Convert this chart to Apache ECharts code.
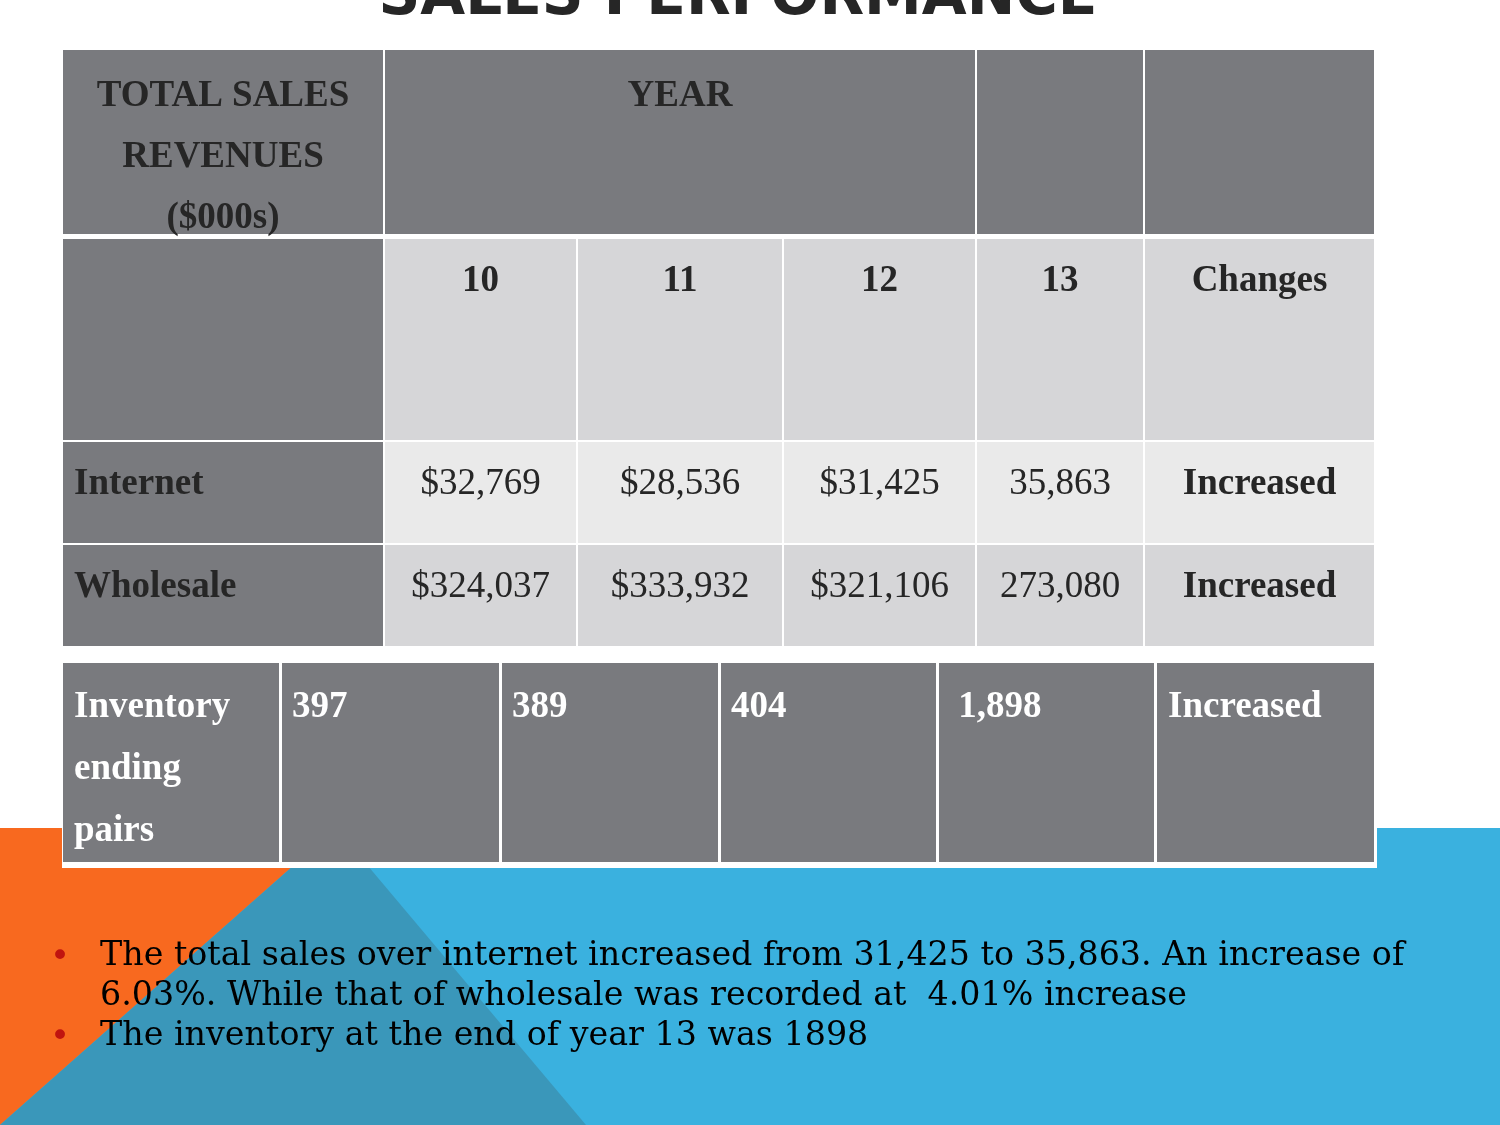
<!DOCTYPE html>
<html>
<head>
<meta charset="utf-8">
<script src="https://cdn.jsdelivr.net/npm/echarts@6/dist/echarts.min.js"></script>
<style>
html,body{margin:0;padding:0;background:#fff;}
#chart{width:1500px;height:1125px;}
</style>
</head>
<body>
<div id="chart"></div>
<script>
// ---- data ----
const titleText = 'SALES PERFORMANCE';
const cornerHeader = ['TOTAL SALES', 'REVENUES', '($000s)'];
const yearHeader = 'YEAR';
const years = ['10', '11', '12', '13'];
const changesHeader = 'Changes';
const rowLabels = ['Internet', 'Wholesale'];
const internetSales = ['$32,769', '$28,536', '$31,425', '35,863'];
const wholesaleSales = ['$324,037', '$333,932', '$321,106', '273,080'];
const rowChanges = ['Increased', 'Increased'];
const inventoryLabel = ['Inventory', 'ending', 'pairs'];
const inventoryPairs = ['397', '389', '404', ' 1,898'];
const inventoryChange = 'Increased';
const bullets = [
  ['The total sales over internet increased from 31,425 to 35,863. An increase of',
   '6.03%. While that of wholesale was recorded at  4.01% increase'],
  ['The inventory at the end of year 13 was 1898']
];

// ---- layout / style ----
const DARK = '#797A7E', LIGHT = '#D6D6D8', LIGHTER = '#EAEAEA';
const TXT = '#262626';
const SERIF = '"Liberation Serif", "Times New Roman", serif';
const FS = 37;
const K = 0.28; // baseline -> middle offset factor

const t1Cols = [[63, 383], [385, 576], [578, 782], [784, 975], [977, 1143], [1145, 1374]];
const t1Rows = [[50, 234], [239, 440], [442, 543], [545, 646]];
const t2Cols = [[63, 279], [282, 499], [502, 718], [721, 936], [939, 1154], [1157, 1374]];
const t2Row = [663, 862];

const g = [];
function rect(x0, y0, x1, y1, fill) {
  g.push({ type: 'rect', shape: { x: x0, y: y0, width: x1 - x0, height: y1 - y0 }, style: { fill: fill }, silent: true });
}
function text(x, baseline, str, opt) {
  opt = opt || {};
  const fs = opt.fs || FS;
  g.push({
    type: 'text', x: x, y: baseline - (opt.k || K) * fs, silent: true,
    style: {
      text: str, fill: opt.color || TXT,
      font: (opt.bold === false ? 'normal ' : 'bold ') + fs + 'px ' + (opt.family || SERIF),
      align: opt.align || 'center', verticalAlign: 'middle'
    }
  });
}
const mid = c => (c[0] + c[1]) / 2;

// background band
g.push({ type: 'rect', shape: { x: 0, y: 828, width: 1500, height: 297 }, style: { fill: '#3AB1DF' }, silent: true });
g.push({ type: 'polygon', shape: { points: [[0, 828], [336, 828], [0, 1125]] }, style: { fill: '#F8691F' }, silent: true });
g.push({ type: 'polygon', shape: { points: [[336, 828], [586, 1125], [0, 1125]] }, style: { fill: '#3A97BA' }, silent: true });

// title
text(738, 20, titleText, { fs: 58, family: '"DejaVu Sans", sans-serif', color: '#262626', k: 0.36 });

// table 1, row 1
rect(t1Cols[0][0], t1Rows[0][0], t1Cols[0][1], t1Rows[0][1], DARK);
rect(t1Cols[1][0], t1Rows[0][0], t1Cols[3][1], t1Rows[0][1], DARK);
rect(t1Cols[4][0], t1Rows[0][0], t1Cols[4][1], t1Rows[0][1], DARK);
rect(t1Cols[5][0], t1Rows[0][0], t1Cols[5][1], t1Rows[0][1], DARK);
cornerHeader.forEach((s, i) => text(mid(t1Cols[0]), 107 + i * 61, s));
text(mid([t1Cols[1][0], t1Cols[3][1]]), 107, yearHeader);

// rows 2-4
const rowFills = [LIGHT, LIGHTER, LIGHT];
for (let r = 1; r < 4; r++) {
  t1Cols.forEach((c, ci) => rect(c[0], t1Rows[r][0], c[1], t1Rows[r][1], ci === 0 ? DARK : rowFills[r - 1]));
}
years.forEach((y, i) => text(mid(t1Cols[i + 1]), 292, y));
text(mid(t1Cols[5]), 292, changesHeader);

const rowVals = [internetSales, wholesaleSales];
const rowBase = [495, 598];
rowLabels.forEach((lab, r) => {
  text(74, rowBase[r], lab, { align: 'left' });
  rowVals[r].forEach((v, i) => text(mid(t1Cols[i + 1]), rowBase[r], v, { bold: false }));
  text(mid(t1Cols[5]), rowBase[r], rowChanges[r]);
});

// table 2
rect(62, 660, 1377, 868, '#FFFFFF');
t2Cols.forEach(c => rect(c[0], t2Row[0], c[1], t2Row[1], DARK));
inventoryLabel.forEach((s, i) => text(74, 718 + i * 62, s, { align: 'left', color: '#FFFFFF' }));
inventoryPairs.forEach((v, i) => text(t2Cols[i + 1][0] + 10, 718, v, { align: 'left', color: '#FFFFFF' }));
text(t2Cols[5][0] + 11, 718, inventoryChange, { align: 'left', color: '#FFFFFF' });

// bullets
let line = 0;
bullets.forEach(b => {
  const base = 966 + line * 40;
  text(60, base + 2, '\u2022', { fs: 34, family: '"DejaVu Sans", sans-serif', color: '#C0140F', bold: false, align: 'center' });
  b.forEach(s => {
    text(100, 966 + line * 40, s, { fs: 33.3, family: '"DejaVu Serif", serif', color: '#000000', bold: false, align: 'left' });
    line++;
  });
});

const chart = echarts.init(document.getElementById('chart'), null, { renderer: 'canvas' });
chart.setOption({ animation: false, graphic: { elements: g } });
</script>
</body>
</html>
